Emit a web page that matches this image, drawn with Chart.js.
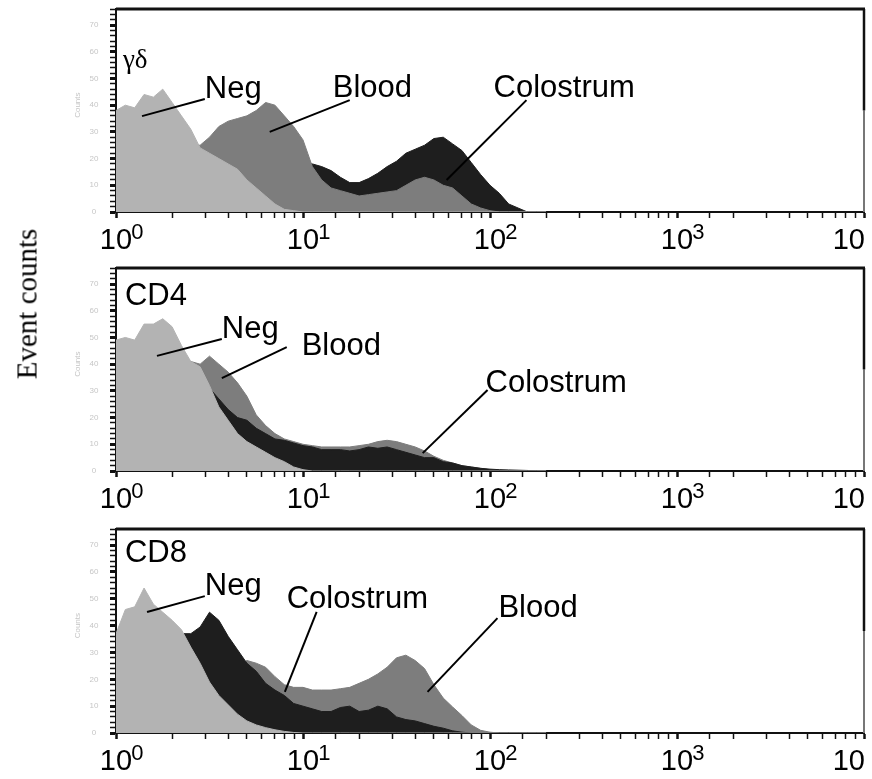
<!DOCTYPE html>
<html>
<head>
<meta charset="utf-8">
<script src="https://cdn.jsdelivr.net/npm/chart.js@4.4.1/dist/chart.umd.min.js"></script>
<style>
    body { margin: 0; background: #fff; width: 872px; height: 779px; overflow: hidden; position: relative; }
    canvas { position: absolute; left: 0; }
    #ylabel {
        position: absolute; left: 27px; top: 304px;
        transform: translate(-50%, -50%) rotate(-90deg);
        font-family: 'Liberation Serif', 'Times New Roman', serif;
        font-size: 29px; white-space: nowrap; color: #000;
    }
</style>
</head>
<body>
<canvas id="gdChart" width="872" height="258" style="top:0px"></canvas>
<canvas id="cd4Chart" width="872" height="258" style="top:259px"></canvas>
<canvas id="cd8Chart" width="872" height="259" style="top:520px"></canvas>
<div id="ylabel">Event counts</div>

<script>
// Histogram bins, position in decades of fluorescence (10^0 .. 10^2.3)
const decades = [0, 0.05, 0.1, 0.15, 0.2, 0.25, 0.3, 0.35, 0.4, 0.45,
    0.5, 0.55, 0.6, 0.65, 0.7, 0.75, 0.8, 0.85, 0.9, 0.95,
    1.0, 1.05, 1.1, 1.15, 1.2, 1.25, 1.3, 1.35, 1.4, 1.45,
    1.5, 1.55, 1.6, 1.65, 1.7, 1.75, 1.8, 1.85, 1.9, 1.95,
    2.0, 2.05, 2.1, 2.15, 2.2, 2.25, 2.3];

// gamma-delta panel
const gdNeg = [38, 40, 39, 44, 43, 46, 41, 36, 31, 24, 22, 20, 18, 16, 12, 9, 6, 3, 1, 0.5,
    0, 0, 0, 0, 0, 0, 0, 0, 0, 0, 0, 0, 0, 0, 0, 0, 0, 0, 0, 0, 0, 0, 0, 0, 0, 0, 0];
const gdBlood = [4, 6, 8, 10, 13, 16, 20, 23, 25, 25, 28, 32, 34, 35, 36, 38, 41, 40, 36, 32,
    27, 17, 12, 9, 8, 7, 6, 6.5, 7, 7.5, 8, 10, 12, 13, 12, 10, 9, 6, 3, 1.5,
    0.5, 0, 0, 0, 0, 0, 0];
const gdColostrum = [2, 2, 3, 3, 4, 4, 5, 6, 7, 8, 9, 10, 11, 12, 13, 14, 15, 16, 17, 18,
    19, 18, 17, 15.5, 13, 11, 11, 12.5, 14.5, 17, 19, 22, 23.5, 25, 27.5, 28, 25.5, 23, 18.5, 14,
    10, 7, 3, 1.5, 0, 0, 0];

// CD4 panel
const cd4Neg = [49, 50, 49, 55, 55, 57, 54, 47, 41, 39, 32, 24, 19, 14, 11, 9, 7, 5, 3.5, 1.5,
    0.5, 0, 0, 0, 0, 0, 0, 0, 0, 0, 0, 0, 0, 0, 0, 0, 0, 0, 0, 0, 0, 0, 0, 0, 0, 0, 0];
const cd4Blood = [10, 14, 18, 22, 26, 30, 34, 38, 41, 40, 43, 40, 37, 33, 28, 21, 17, 14, 12, 11,
    10, 9.5, 9, 9, 9, 9, 9.5, 10, 11, 11.5, 11, 10, 9, 7.5, 5.5, 4, 3, 2, 1.5, 1,
    0.5, 0.3, 0, 0, 0, 0, 0];
const cd4Colostrum = [8, 11, 14, 18, 22, 26, 29, 32, 35, 37, 31, 27, 23, 20, 19, 16, 14, 12, 11.5, 10.5,
    9.5, 9, 8, 8, 8, 7.5, 8, 9, 8.5, 9, 8, 7, 6, 5, 5, 3.5, 3, 2, 1.5, 1,
    0.7, 0.5, 0.4, 0.3, 0.2, 0, 0];

// CD8 panel
const cd8Neg = [37, 46, 47, 54, 48, 45, 42, 38.5, 32, 26, 19, 14, 10.5, 7, 4.5, 3, 2, 1.2, 0.6, 0.2,
    0, 0, 0, 0, 0, 0, 0, 0, 0, 0, 0, 0, 0, 0, 0, 0, 0, 0, 0, 0, 0, 0, 0, 0, 0, 0, 0];
const cd8Blood = [3, 5, 7, 9, 11, 13, 15, 17, 19, 21, 22, 23, 24, 25, 27, 26, 24.5, 21, 18, 17,
    17, 16, 16, 16, 16.5, 17, 18.5, 20, 22, 24.5, 28, 29, 27, 24, 18, 13, 9.7, 6.5, 3, 1,
    0.3, 0, 0, 0, 0, 0, 0];
const cd8Colostrum = [5, 8, 11, 14, 17, 21, 25, 37, 37, 39.5, 45, 42, 36, 31, 26, 23, 18.5, 16, 14, 11,
    10, 9, 8, 8, 9.5, 10, 8, 8.5, 10, 9, 6, 5, 4.5, 3.5, 2.5, 1.8, 0.8, 0.3, 0, 0,
    0, 0, 0, 0, 0, 0, 0];

// Axis labels
const tickExps = ['0', '1', '2', '3', '4'];
const yTickLabels = [0, 10, 20, 30, 40, 50, 60, 70];

const NEG_COLOR = '#b3b3b3';
const BLOOD_COLOR = '#7d7d7d';
const COLOSTRUM_COLOR = '#1e1e1e';
const SANS = "'Liberation Sans', Arial, Helvetica, sans-serif";
const SERIF = "'Liberation Serif', 'Times New Roman', serif";

function toPoints(values) {
    return values.map((v, i) => ({ x: Math.pow(10, decades[i]), y: v }));
}

function histDataset(label, values, color, order) {
    return {
        label: label,
        data: toPoints(values),
        borderColor: color,
        backgroundColor: color,
        borderWidth: 1,
        pointRadius: 0,
        tension: 0,
        fill: 'origin',
        order: order
    };
}

// Frame, tick labels and annotations drawn on top of each panel
const panelDecor = {
    id: 'panelDecor',
    afterDraw(chart, args, opts) {
        const { ctx, chartArea: a, scales: { x, y } } = chart;
        const px = d => x.getPixelForValue(Math.pow(10, d));
        const py = v => y.getPixelForValue(v);
        const mid = (a.top + a.bottom) / 2;
        ctx.save();

        // right frame: dark upper half, grey lower half
        ctx.lineWidth = 2;
        ctx.strokeStyle = '#777';
        ctx.beginPath();
        ctx.moveTo(a.right, mid);
        ctx.lineTo(a.right, a.bottom);
        ctx.stroke();
        ctx.lineWidth = 2.5;
        ctx.strokeStyle = '#111';
        ctx.beginPath();
        ctx.moveTo(a.right, a.top);
        ctx.lineTo(a.right, mid);
        ctx.stroke();

        // thick top frame line
        ctx.lineWidth = 3;
        ctx.beginPath();
        ctx.moveTo(a.left, a.top);
        ctx.lineTo(a.right + 1, a.top);
        ctx.stroke();

        // x tick labels: 10 with superscript exponent (cut off at the page edge)
        ctx.fillStyle = '#000';
        ctx.textBaseline = 'alphabetic';
        ctx.textAlign = 'left';
        tickExps.forEach((e, i) => {
            const tx = x.getPixelForValue(Math.pow(10, i));
            ctx.font = '29px ' + SANS;
            const w10 = ctx.measureText('10').width;
            ctx.font = '22px ' + SANS;
            const wExp = ctx.measureText(e).width;
            const total = w10 + wExp - 1;
            let left = tx - total / 2;
            left = Math.max(left, tx - w10 / 2);
            left = Math.min(left, a.right - w10 + 1);
            ctx.font = '29px ' + SANS;
            ctx.fillText('10', left, a.bottom + 37);
            if (left + w10 + wExp < chart.width) {
                ctx.font = '22px ' + SANS;
                ctx.fillText(e, left + w10 - 1, a.bottom + 27);
            }
        });

        // faint instrument y tick labels
        ctx.fillStyle = '#c6c6c6';
        ctx.font = '8px ' + SANS;
        ctx.textAlign = 'center';
        ctx.textBaseline = 'middle';
        yTickLabels.forEach(v => ctx.fillText(String(v), a.left - 22, py(v)));
        ctx.save();
        ctx.translate(a.left - 38, py(40));
        ctx.rotate(-Math.PI / 2);
        ctx.fillText('Counts', 0, 0);
        ctx.restore();

        // panel title
        const t = opts.title;
        ctx.fillStyle = '#000';
        ctx.textAlign = 'left';
        ctx.textBaseline = 'alphabetic';
        ctx.font = t.serif ? '27px ' + SERIF : '31px ' + SANS;
        ctx.fillText(t.text, px(t.pos[0]), py(t.pos[1]));

        // labels with leader lines
        ctx.font = '31px ' + SANS;
        ctx.strokeStyle = '#000';
        ctx.lineWidth = 2;
        opts.notes.forEach(n => {
            ctx.beginPath();
            ctx.moveTo(px(n.tip[0]), py(n.tip[1]));
            ctx.lineTo(px(n.end[0]), py(n.end[1]));
            ctx.stroke();
            ctx.fillText(n.text, px(n.pos[0]), py(n.pos[1]));
        });
        ctx.restore();
    }
};

function makePanel(canvasId, datasets, title, notes) {
    return new Chart(document.getElementById(canvasId), {
        type: 'line',
        data: { datasets: datasets },
        plugins: [panelDecor],
        options: {
            responsive: false,
            animation: false,
            devicePixelRatio: 1,
            layout: { padding: { top: 9, right: 8, left: 0, bottom: 0 } },
            plugins: {
                legend: { display: false },
                tooltip: { enabled: false },
                panelDecor: { title: title, notes: notes }
            },
            scales: {
                x: {
                    type: 'logarithmic',
                    min: 1,
                    max: 10000,
                    afterFit: scale => { scale.height = 46; },
                    ticks: { display: false, autoSkip: false, major: { enabled: true } },
                    grid: {
                        drawOnChartArea: false,
                        drawTicks: true,
                        tickLength: 6,
                        tickColor: '#111',
                        tickWidth: c => {
                            const lg = Math.log10(c.tick ? c.tick.value : 1);
                            return Math.abs(lg - Math.round(lg)) < 1e-6 ? 2.5 : 1.5;
                        }
                    },
                    border: { display: true, color: '#111', width: 2 }
                },
                y: {
                    min: 0,
                    max: 76,
                    afterFit: scale => { scale.width = 116; },
                    ticks: { display: false, stepSize: 2 },
                    grid: {
                        drawOnChartArea: false,
                        drawTicks: true,
                        tickLength: 6,
                        tickColor: '#111',
                        tickWidth: c => (c.tick && c.tick.value % 10 === 0) ? 3 : 1.5
                    },
                    border: { display: true, color: '#111', width: 2 }
                }
            }
        }
    });
}

document.addEventListener('DOMContentLoaded', function() {
    // gamma-delta: Neg in front, Blood over Colostrum
    makePanel('gdChart', [
        histDataset('Neg', gdNeg, NEG_COLOR, 0),
        histDataset('Blood', gdBlood, BLOOD_COLOR, 1),
        histDataset('Colostrum', gdColostrum, COLOSTRUM_COLOR, 2)
    ], { text: 'γδ', pos: [0.037, 53.9], serif: true }, [
        { text: 'Neg', pos: [0.475, 42.7], tip: [0.139, 35.9], end: [0.475, 42.3] },
        { text: 'Blood', pos: [1.159, 43.1], tip: [0.822, 30.0], end: [1.25, 41.9] },
        { text: 'Colostrum', pos: [2.019, 43.1], tip: [1.768, 12.0], end: [2.195, 41.9] }
    ]);

    // CD4: Neg in front, Colostrum over Blood
    makePanel('cd4Chart', [
        histDataset('Neg', cd4Neg, NEG_COLOR, 0),
        histDataset('Colostrum', cd4Colostrum, COLOSTRUM_COLOR, 1),
        histDataset('Blood', cd4Blood, BLOOD_COLOR, 2)
    ], { text: 'CD4', pos: [0.048, 62.1] }, [
        { text: 'Neg', pos: [0.566, 49.8], tip: [0.219, 43.1], end: [0.566, 49.4] },
        { text: 'Blood', pos: [0.993, 43.4], tip: [0.566, 34.8], end: [0.913, 46.4] },
        { text: 'Colostrum', pos: [1.976, 29.6], tip: [1.640, 6.7], end: [1.987, 30.3] }
    ]);

    // CD8: Neg in front, Colostrum over Blood
    makePanel('cd8Chart', [
        histDataset('Neg', cd8Neg, NEG_COLOR, 0),
        histDataset('Colostrum', cd8Colostrum, COLOSTRUM_COLOR, 1),
        histDataset('Blood', cd8Blood, BLOOD_COLOR, 2)
    ], { text: 'CD8', pos: [0.048, 63.7] }, [
        { text: 'Neg', pos: [0.475, 51.4], tip: [0.166, 45.1], end: [0.475, 51.0] },
        { text: 'Colostrum', pos: [0.913, 46.6], tip: [0.903, 15.3], end: [1.073, 45.1] },
        { text: 'Blood', pos: [2.045, 43.2], tip: [1.666, 15.3], end: [2.04, 42.8] }
    ]);
});
</script>
</body>
</html>
